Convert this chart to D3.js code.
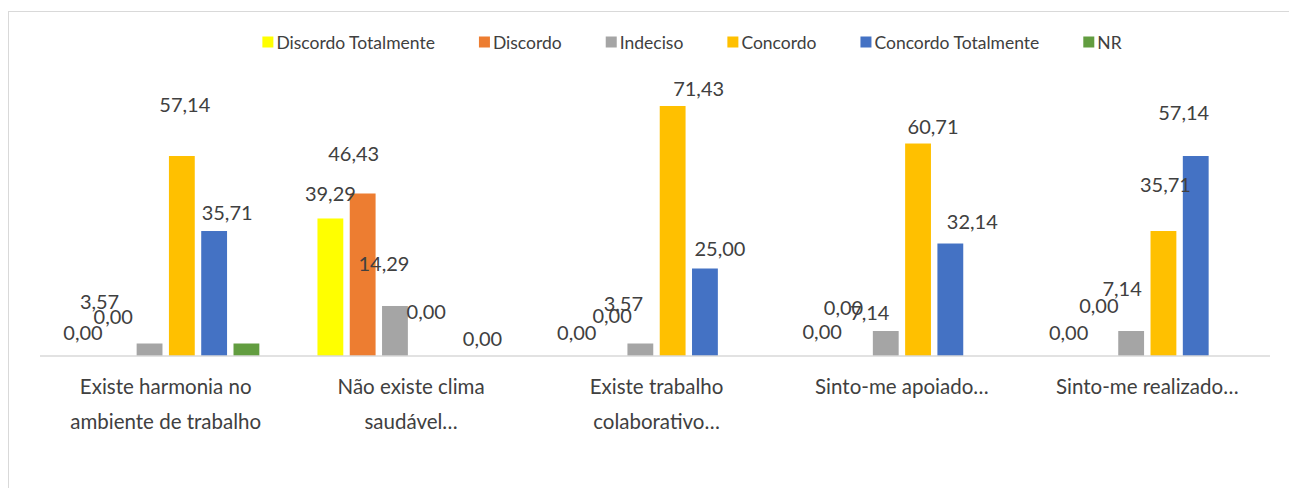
<!DOCTYPE html>
<html>
<head>
<meta charset="utf-8">
<script src="https://cdn.jsdelivr.net/npm/d3@7"></script>
<style>
  body { margin: 0; background: #fff; }
  text { font-family: Lato, "Open Sans", sans-serif; fill: #404040; }
</style>
</head>
<body>
<div id="chart"></div>
<script>
// categories (each line of the axis label)
const categories = [
    ["Existe harmonia no", "ambiente de trabalho"],
    ["Não existe clima", "saudável…"],
    ["Existe trabalho", "colaborativo…"],
    ["Sinto-me apoiado…"],
    ["Sinto-me realizado…"]
];
const seriesNames = ["Discordo Totalmente", "Discordo", "Indeciso", "Concordo", "Concordo Totalmente", "NR"];
const seriesColors = ["#FFFF00", "#ED7D31", "#A5A5A5", "#FFC000", "#4472C4", "#629D40"];

// values per series, one per category (null = no bar)
const discordoTotalmente = [0, 39.29, 0, 0, 0];
const discordo = [0, 46.43, 0, 0, 0];
const indeciso = [3.57, 14.29, 3.57, 7.14, 7.14];
const concordo = [57.14, 0, 71.43, 60.71, 35.71];
const concordoTotalmente = [35.71, 0, 25.00, 32.14, 57.14];
const nr = [3.57, null, null, null, null];

const seriesValues = [discordoTotalmente, discordo, indeciso, concordo, concordoTotalmente, nr];

// label nudges (dx, dy from bar top centre), hand placed like the original; null = hidden
const labelNudge = [
    [[-2, -24], [-4, -40], [-50, -43], [3, -52], [13, -19], null],
    [[0, -25], [-9, -40], [-11, -43], [-1, -45], [23, -18], null],
    [[1, -24], [4, -41], [-17, -41], [26, -18], [15, -21], null],
    [[1, -25], [-10, -49], [-16, -19], [15, -18], [22, -23], null],
    [[2, -24], [0, -51], [-9, -43], [2, -47], [-12, -44], null]
];

const width = 1289, height = 488;
const svg = d3.select("#chart").append("svg")
    .attr("width", width)
    .attr("height", height);

// outer frame
svg.append("rect")
    .attr("x", 8.5).attr("y", 11.5)
    .attr("width", 1300).attr("height", 500)
    .attr("fill", "none")
    .attr("stroke", "#d9d9d9");

const x0 = d3.scaleBand()
    .domain(d3.range(categories.length))
    .range([43, 1270]);

const x1 = d3.scaleBand()
    .domain(d3.range(seriesNames.length))
    .range([0, x0.bandwidth()])
    .paddingInner(0.2)
    .paddingOuter(0.9);

const y = d3.scaleLinear()
    .domain([0, 80])
    .range([356, 76]);

const fmt = v => v.toFixed(2).replace(".", ",");

const bars = [];
categories.forEach((c, ci) => {
    seriesValues.forEach((vals, si) => {
        if (vals[ci] !== null) bars.push({ ci, si, v: vals[ci] });
    });
});

svg.append("g").selectAll("rect")
    .data(bars.filter(d => d.v > 0))
    .enter()
    .append("rect")
    .attr("x", d => x0(d.ci) + x1(d.si))
    .attr("y", d => y(d.v))
    .attr("width", x1.bandwidth())
    .attr("height", d => y(0) - y(d.v))
    .attr("fill", d => seriesColors[d.si]);

// baseline
svg.append("line")
    .attr("x1", 40).attr("x2", 1270)
    .attr("y1", y(0)).attr("y2", y(0))
    .attr("stroke", "#d9d9d9")
    .attr("stroke-width", 1.5);

// value labels
svg.append("g").selectAll("text")
    .data(bars.filter(d => labelNudge[d.ci][d.si]))
    .enter()
    .append("text")
    .attr("x", d => x0(d.ci) + x1(d.si) + x1.bandwidth() / 2 + labelNudge[d.ci][d.si][0])
    .attr("y", d => y(d.v) + labelNudge[d.ci][d.si][1])
    .attr("text-anchor", "middle")
    .attr("dominant-baseline", "central")
    .style("font-size", "20px")
    .text(d => fmt(d.v));

// category labels
const catG = svg.append("g");
categories.forEach((lines, ci) => {
    lines.forEach((line, li) => {
        catG.append("text")
            .attr("x", x0(ci) + x0.bandwidth() / 2)
            .attr("y", 386 + li * 35)
            .attr("text-anchor", "middle")
            .attr("dominant-baseline", "central")
            .style("font-size", "20.5px")
            .text(line);
    });
});

// legend
const legend = svg.append("g");
let lx = 0;
seriesNames.forEach((name, i) => {
    const item = legend.append("g").attr("transform", `translate(${lx},0)`);
    item.append("rect")
        .attr("x", 0).attr("y", -5.5)
        .attr("width", 11).attr("height", 11)
        .attr("fill", seriesColors[i]);
    const t = item.append("text")
        .attr("x", 14)
        .attr("y", 0)
        .attr("dominant-baseline", "central")
        .style("font-size", "17.5px")
        .text(name);
    lx += 14 + t.node().getComputedTextLength() + 44;
});
const legendW = lx - 44;
legend.attr("transform", `translate(${692 - legendW / 2},42)`);
</script>
</body>
</html>
